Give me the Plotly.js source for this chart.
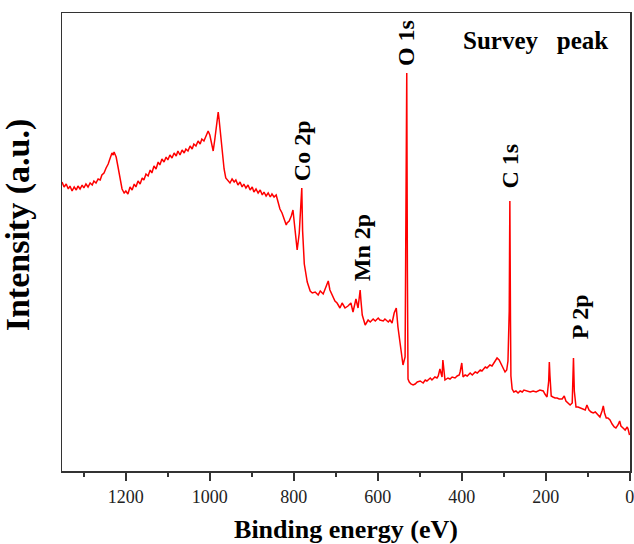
<!DOCTYPE html>
<html>
<head>
<meta charset="utf-8">
<script src="https://cdn.plot.ly/plotly-3.0.1.min.js"></script>
<style>html,body{margin:0;padding:0;background:#fff;}#chart{width:634px;height:544px;}</style>
</head>
<body>
<div id="chart"></div>
<script>
// Binding energy (eV)
const energy = [
1352,1347,1342,1337,1333,1328,1323,1318,1314,1309,1304,1300,1295,1290,1285,1280,1276,1271,1266,1261,
1257,1252,1247,1242,1238,1233,1230,1228,1226,1223,1219,1214,1209,1204,1200,1195,1190,1185,1180,1176,
1171,1166,1161,1157,1152,1147,1142,1138,1133,1128,1123,1119,1114,1109,1104,1100,1095,1090,1085,1080,
1076,1071,1066,1061,1057,1052,1047,1042,1038,1033,1028,1023,1019,1014,1009,1004,1000,995,992,988,
983,980,978,976,971,966,962,957,952,947,942,938,933,928,923,919,914,909,904,899,
895,890,885,880,875,871,866,861,856,852,847,842,837,833,828,823,818,816,811,806,
802,797,792,787,784,781,779,775,768,761,756,749,742,737,730,725,718,714,706,702,
697,690,685,678,671,664,659,652,647,642,640,637,630,623,618,611,606,599,595,587,
583,575,571,566,561,556,552,544,540,535,533,531,529.5,528,525,521,516,511,506,499,
492,487,483,475,471,464,459,456,452,449,447,445,442,440,433,428,423,416,411,406,
404,400,397,392,387,380,375,368,363,356,352,344,340,333,328,323,318,316,311,306,
302,297,293,290,287,285.5,284,283,280,276,271,266,261,256,252,244,237,230,223,214,
206,202,197,193,191.5,190,187,183,178,173,168,161,156,152,147,142,137,134,132,128,
123,118,113,106,102,97,92,87,82,75,71,66,63,60,56,52,47,42,37,33,
28,24,21,16,11,6,4,0.5
];
// Intensity (a.u.)
const intensity = [
289,284,287,282,285,280,284,281,285,282,286,283,287,284,288,286,290,288,292,291,
296,298,303,307,312,318,316,319,317,314,305,292,282,278,280,277,284,281,287,284,
290,287,293,291,297,295,301,298,305,302,309,306,312,309,314,311,316,313,318,315,
320,316,321,318,322,320,325,322,327,325,330,327,332,330,335,340,336,325,320,332,
350,359,352,344,320,302,293,291,288,292,289,291,286,289,284,287,283,286,281,284,
279,282,278,281,276,279,275,278,274,277,274,276,268,262,258,252,246,248,250,255,
261,241,221,238,270,283,240,207,189,180,178,179,176,180,177,182,190,181,173,170,
168,163,168,163,165,168,159,172,163,181,170,156,146,151,149,152,150,153,151,150,
152,149,151,148,158,163,144,118,106,114,250,398,200,92,89,87,86,87,89,90,
88,91,90,93,91,94,93,95,102,95,94,111,96,91,93,92,94,93,95,96,
99,108,94,96,95,98,96,99,98,101,100,104,103,106,105,108,111,113,111,107,
103,99,101,110,160,270,150,95,82,79,80,78,80,79,81,80,79,80,79,81,
80,77,74,90,109,95,75,74,73,73,72,72,75,70,68,66,68,113,80,64,
64,63,62,61,66,61,59,58,59,56,54,60,65,58,53,53,51,47,44,43,
46,50,45,43,41,44,42,36
];
// Peak labels
const peakLabels = ["Co 2p", "O 1s", "Mn 2p", "C 1s", "P 2p"];
const peakLabelX = [780, 532.6, 637, 284, 118];
const peakLabelY = [320, 428, 223, 305, 154];

const serif = "Liberation Serif, Times New Roman, serif";

const annotations = peakLabels.map((t, i) => ({
  text: t, x: peakLabelX[i], y: peakLabelY[i], xref: 'x', yref: 'y',
  showarrow: false, textangle: -90, xanchor: 'center', yanchor: 'middle',
  font: {family: serif, size: 24, color: '#000', weight: 'bold'}
}));
annotations.push({
  text: "Survey\u00a0\u00a0\u00a0peak", x: 224, y: 431, xref: 'x', yref: 'y',
  showarrow: false, xanchor: 'center', yanchor: 'middle',
  font: {family: serif, size: 25, color: '#000', weight: 'bold'}
});
annotations.push({
  text: "Intensity (a.u.)", x: -0.078, y: 0.538, xref: 'paper', yref: 'paper',
  showarrow: false, textangle: -90, xanchor: 'center', yanchor: 'middle',
  font: {family: serif, size: 34, color: '#000', weight: 'bold'}
});

const trace = {
  x: energy, y: intensity, type: 'scatter', mode: 'lines',
  line: {color: '#ff0000', width: 1.5}, hoverinfo: 'skip'
};

const layout = {
  width: 634, height: 544,
  margin: {l: 62, r: 4, t: 13, b: 73},
  paper_bgcolor: '#fff', plot_bgcolor: '#fff',
  showlegend: false,
  font: {family: serif, color: '#000'},
  xaxis: {
    range: [1352, -0.6], tick0: 0, dtick: 200,
    ticks: 'outside', ticklen: 8, tickwidth: 1.5, tickcolor: '#333',
    minor: {dtick: 100, ticks: 'outside', ticklen: 4, tickwidth: 1.5, tickcolor: '#333'},
    showline: true, linecolor: '#333', linewidth: 1.5, mirror: true,
    showgrid: false, zeroline: false, ticklabeloverflow: 'allow',
    ticklabelstandoff: 1,
    tickfont: {family: serif, size: 18, color: '#222'},
    title: {text: 'Binding energy (eV)', standoff: 13,
            font: {family: serif, size: 26, color: '#000', weight: 'bold'}}
  },
  yaxis: {
    range: [0, 458], showticklabels: false, ticks: '',
    showline: true, linecolor: '#333', linewidth: 1.5, mirror: true,
    showgrid: false, zeroline: false
  },
  annotations: annotations
};

Plotly.newPlot('chart', [trace], layout, {staticPlot: true, displayModeBar: false});
</script>
</body>
</html>
